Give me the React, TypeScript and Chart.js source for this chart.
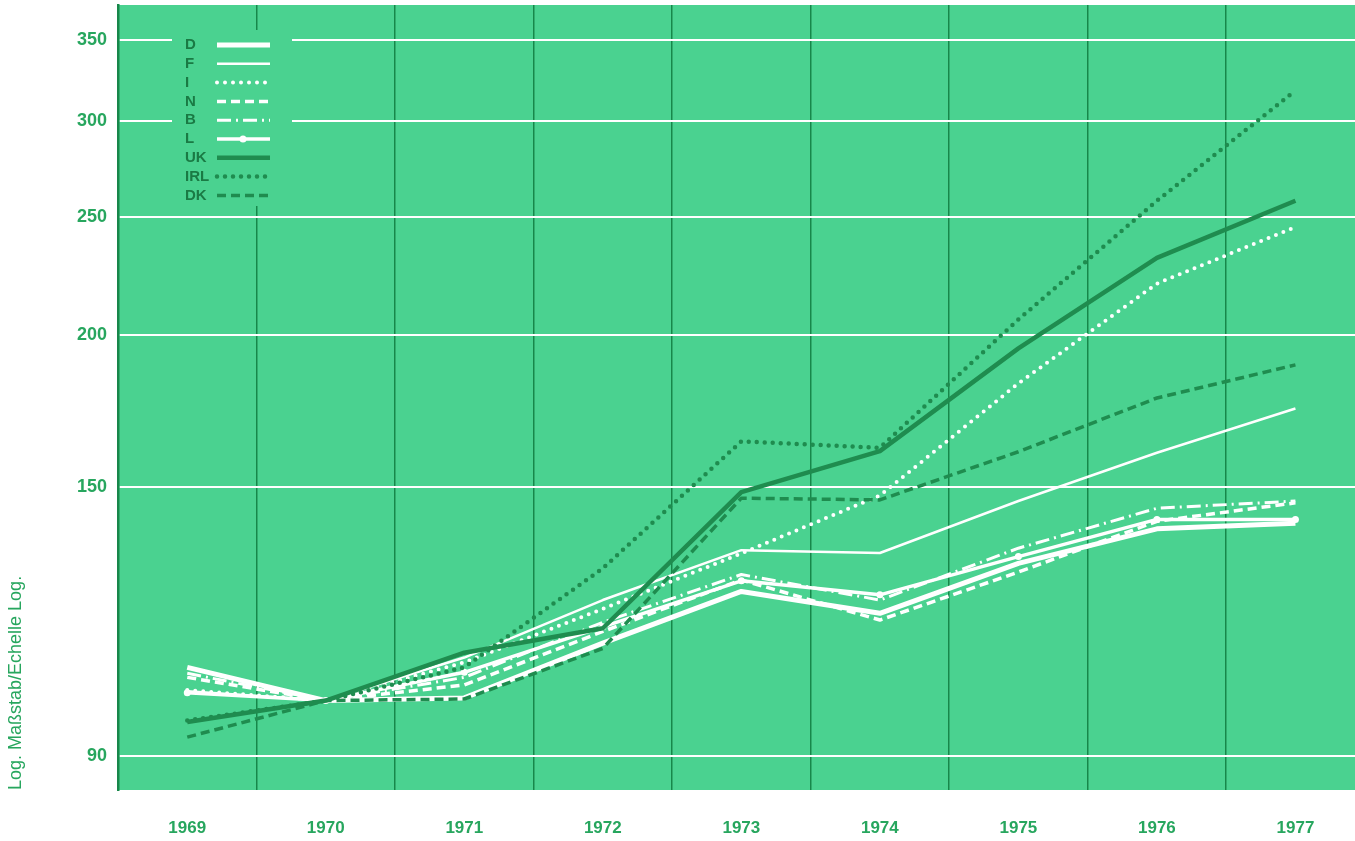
import React, { useEffect, useRef } from 'react';
import { Chart, registerables } from 'chart.js';

Chart.register(...registerables);

// ---------- data ----------
const years = [1969, 1970, 1971, 1972, 1973, 1974, 1975, 1976, 1977];
const yTickValues = [90, 150, 200, 250, 300, 350];
const countryLabels = ['D', 'F', 'I', 'N', 'B', 'L', 'UK', 'IRL', 'DK'];
const axisTitle = 'Log. Maßstab/Echelle Log.';

const valuesD = [106.5, 100, 100.5, 111.5, 123, 118, 129.7, 138.5, 140];
const valuesF = [101.8, 100, 108.5, 121, 133, 132.3, 146, 160, 174];
const valuesI = [102, 100, 107.5, 119, 132.2, 147.5, 182.5, 220.5, 245.5];
const valuesN = [104.5, 100, 103, 114, 125.7, 116.5, 127.6, 140.5, 145.5];
const valuesB = [105.3, 100, 104.5, 116, 127, 121, 133.5, 144, 146];
const valuesL = [101.5, 100, 105.5, 115, 125.5, 122.2, 131.4, 141, 141];
const valuesUK = [96.0, 100, 109.5, 114.7, 148.5, 160.5, 195, 231.5, 258];
const valuesIRL = [96.3, 100, 106.5, 128.5, 163.5, 161.5, 206, 258, 318];
const valuesDK = [93.3, 100, 100.3, 110.4, 146.8, 146.3, 160.3, 177.5, 189];

const seriesValues = [valuesD, valuesF, valuesI, valuesN, valuesB, valuesL, valuesUK, valuesIRL, valuesDK];

// ---------- styles ----------
const BG = '#4ad290';
const DARK = '#1f8c4f';
const GRIDV = '#17874a';
const LABEL = '#27a65e';
const LEGEND_TEXT = '#1a7a44';
const WHITE = '#ffffff';

type Style = { color: string; width: number; dash: number[]; round?: boolean; point?: number; order: number };
const styles: Style[] = [
  { color: WHITE, width: 5, dash: [], order: 5 },
  { color: WHITE, width: 2.5, dash: [], order: 5 },
  { color: WHITE, width: 4, dash: [0, 8], round: true, order: 4 },
  { color: WHITE, width: 3.5, dash: [9, 5], order: 5 },
  { color: WHITE, width: 3, dash: [14, 5, 2, 5], order: 5 },
  { color: WHITE, width: 3.5, dash: [], point: 3.5, order: 5 },
  { color: DARK, width: 4.5, dash: [], order: 1 },
  { color: DARK, width: 4.5, dash: [0, 8], round: true, order: 1 },
  { color: DARK, width: 3.5, dash: [9, 5], order: 1 },
];

const bgPlugin = {
  id: 'bgArea',
  beforeDraw(chart: any) {
    const { ctx, chartArea } = chart;
    ctx.save();
    ctx.fillStyle = '#ffffff';
    ctx.fillRect(0, 0, chart.width, chart.height);
    ctx.fillStyle = BG;
    ctx.fillRect(chartArea.left, chartArea.top, chartArea.right - chartArea.left, chartArea.bottom - chartArea.top);
    ctx.restore();
  },
};

const legendPlugin = {
  id: 'insideLegend',
  afterDraw(chart: any) {
    const { ctx, chartArea } = chart;
    const boxL = chartArea.left + 54;
    const boxT = chartArea.top + 25;
    ctx.save();
    ctx.fillStyle = BG;
    ctx.fillRect(boxL, boxT, 120, 176);
    countryLabels.forEach((lab, i) => {
      const st = styles[i];
      const y = boxT + 15 + i * 18.8;
      ctx.fillStyle = LEGEND_TEXT;
      ctx.font = 'bold 15px "Liberation Sans", Arial, sans-serif';
      ctx.textAlign = 'left';
      ctx.textBaseline = 'middle';
      ctx.fillText(lab, boxL + 13, y);
      ctx.beginPath();
      ctx.strokeStyle = st.color;
      ctx.lineWidth = st.width;
      ctx.setLineDash(st.dash);
      ctx.lineCap = st.round ? 'round' : 'butt';
      ctx.moveTo(boxL + 45, y);
      ctx.lineTo(boxL + 98, y);
      ctx.stroke();
      ctx.setLineDash([]);
      if (st.point) {
        ctx.beginPath();
        ctx.fillStyle = st.color;
        ctx.arc(boxL + 71, y, st.point, 0, Math.PI * 2);
        ctx.fill();
      }
    });
    ctx.restore();
  },
};

export default function App() {
  const ref = useRef<HTMLCanvasElement>(null);

  useEffect(() => {
    if (!ref.current) return;
    const datasets = countryLabels.map((lab, i) => {
      const st = styles[i];
      return {
        label: lab,
        data: years.map((yr, j) => ({ x: yr, y: seriesValues[i][j] })),
        borderColor: st.color,
        backgroundColor: st.color,
        borderWidth: st.width,
        borderDash: st.dash,
        borderCapStyle: st.round ? 'round' : 'butt',
        borderJoinStyle: 'round',
        pointRadius: st.point ? st.point : 0,
        pointBorderWidth: 0,
        pointBackgroundColor: st.color,
        tension: 0,
        fill: false,
        order: st.order,
      };
    });

    const chart = new Chart(ref.current, {
      type: 'line',
      data: { datasets: datasets as any },
      plugins: [bgPlugin, legendPlugin],
      options: {
        animation: false,
        responsive: false,
        devicePixelRatio: 1,
        layout: { autoPadding: false, padding: { left: 3, top: 5, right: 0, bottom: 0 } },
        plugins: { legend: { display: false }, tooltip: { enabled: false } },
        scales: {
          x: {
            type: 'linear',
            min: 1968.5,
            max: 1977.43,
            afterBuildTicks: (scale: any) => {
              const t: any[] = [];
              years.forEach((y) => {
                t.push({ value: y });
                if (y < years[years.length - 1]) t.push({ value: y + 0.5 });
              });
              scale.ticks = t;
            },
            afterFit: (scale: any) => {
              scale.height = 51;
              scale.paddingLeft = 0;
              scale.paddingRight = 0;
            },
            ticks: {
              autoSkip: false,
              maxRotation: 0,
              padding: 28,
              color: LABEL,
              font: { family: '"Liberation Sans", Arial, sans-serif', size: 17, weight: 'bold' },
              callback: (v: any) => (Number.isInteger(v) ? String(v) : ''),
            },
            grid: {
              drawTicks: false,
              lineWidth: 1.5,
              color: (ctx: any) =>
                ctx.tick && Number.isInteger(ctx.tick.value) ? 'rgba(0,0,0,0)' : GRIDV,
            },
            border: { display: false },
          },
          y: {
            type: 'logarithmic',
            min: 84.4,
            max: 374,
            afterBuildTicks: (scale: any) => {
              scale.ticks = yTickValues.map((v) => ({ value: v }));
            },
            afterFit: (scale: any) => {
              scale.width = 115;
              scale.paddingTop = 0;
              scale.paddingBottom = 0;
            },
            ticks: {
              padding: 11,
              color: LABEL,
              font: { family: '"Liberation Sans", Arial, sans-serif', size: 18, weight: 'bold' },
              callback: (v: any) => String(v),
            },
            grid: { drawTicks: false, color: WHITE, lineWidth: 2 },
            border: { display: true, color: GRIDV, width: 2.5 },
            title: {
              display: true,
              text: axisTitle,
              align: 'start',
              color: LABEL,
              padding: { top: 2, bottom: 0 },
              font: { family: '"Liberation Sans", Arial, sans-serif', size: 18 },
            },
          },
        },
      } as any,
    });
    return () => chart.destroy();
  }, []);

  return (
    <div style={{ position: 'fixed', left: 0, top: 0, width: 1355, height: 841, background: '#fff', overflow: 'hidden' }}>
      <canvas ref={ref} width={1355} height={841} style={{ display: 'block' }} />
    </div>
  );
}
